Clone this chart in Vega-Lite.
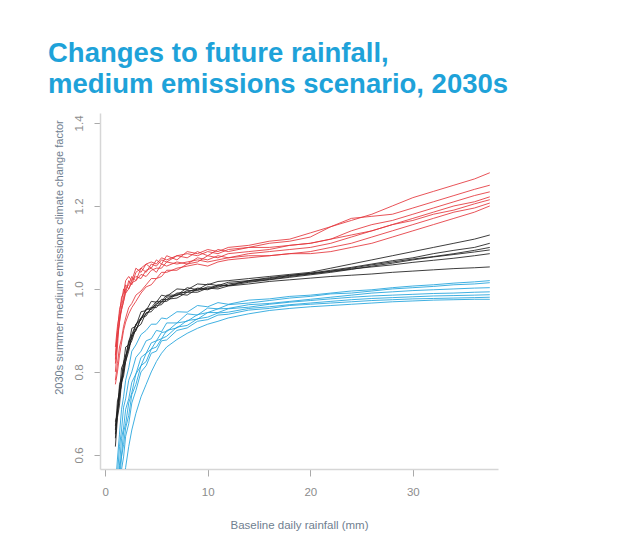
{
"$schema":"https://vega.github.io/schema/vega-lite/v6.json",
"width":398,"height":356,
"autosize":"none",
"padding":{"left":100,"top":113,"right":33,"bottom":73},
"background":"white",
"title":{"text":["Changes to future rainfall,","medium emissions scenario, 2030s"],"anchor":"start","frame":"group","dx":-52,"offset":-13,"baseline":"bottom","font":"Liberation Sans","fontSize":27.5,"fontWeight":"bold","color":"#1ea2d9","lineHeight":31},
"data":{"values":[
{"s":"r1","x":1,"y":0.84},{"s":"r1","x":1.2,"y":0.90},{"s":"r1","x":1.4,"y":0.95},{"s":"r1","x":1.6,"y":0.97},{"s":"r1","x":1.8,"y":1.00},{"s":"r1","x":2,"y":0.99},{"s":"r1","x":2.3,"y":1.02},{"s":"r1","x":2.6,"y":1.01},{"s":"r1","x":3,"y":1.04},{"s":"r1","x":3.5,"y":1.05},{"s":"r1","x":4,"y":1.06},{"s":"r1","x":4.5,"y":1.05},{"s":"r1","x":5,"y":1.07},{"s":"r1","x":5.5,"y":1.06},{"s":"r1","x":6,"y":1.08},{"s":"r1","x":7,"y":1.07},{"s":"r1","x":8,"y":1.09},{"s":"r1","x":9,"y":1.085},{"s":"r1","x":10,"y":1.095},{"s":"r1","x":11,"y":1.09},{"s":"r1","x":12,"y":1.10},{"s":"r1","x":14,"y":1.105},{"s":"r1","x":16,"y":1.115},{"s":"r1","x":18,"y":1.12},{"s":"r1","x":20,"y":1.135},{"s":"r1","x":22,"y":1.15},{"s":"r1","x":24,"y":1.165},{"s":"r1","x":26,"y":1.18},{"s":"r1","x":28,"y":1.20},{"s":"r1","x":30,"y":1.22},{"s":"r1","x":32,"y":1.235},{"s":"r1","x":34,"y":1.25},{"s":"r1","x":36,"y":1.265},{"s":"r1","x":37.5,"y":1.28},
{"s":"r2","x":1,"y":0.80},{"s":"r2","x":1.2,"y":0.86},{"s":"r2","x":1.4,"y":0.93},{"s":"r2","x":1.6,"y":0.95},{"s":"r2","x":1.8,"y":0.97},{"s":"r2","x":2,"y":1.00},{"s":"r2","x":2.3,"y":1.01},{"s":"r2","x":2.6,"y":1.03},{"s":"r2","x":3,"y":1.02},{"s":"r2","x":3.5,"y":1.05},{"s":"r2","x":4,"y":1.04},{"s":"r2","x":4.5,"y":1.06},{"s":"r2","x":5,"y":1.055},{"s":"r2","x":5.5,"y":1.07},{"s":"r2","x":6,"y":1.065},{"s":"r2","x":7,"y":1.08},{"s":"r2","x":8,"y":1.075},{"s":"r2","x":9,"y":1.09},{"s":"r2","x":10,"y":1.08},{"s":"r2","x":11,"y":1.095},{"s":"r2","x":12,"y":1.09},{"s":"r2","x":14,"y":1.10},{"s":"r2","x":16,"y":1.11},{"s":"r2","x":18,"y":1.115},{"s":"r2","x":20,"y":1.125},{"s":"r2","x":22,"y":1.15},{"s":"r2","x":24,"y":1.17},{"s":"r2","x":26,"y":1.175},{"s":"r2","x":28,"y":1.18},{"s":"r2","x":30,"y":1.195},{"s":"r2","x":32,"y":1.21},{"s":"r2","x":34,"y":1.225},{"s":"r2","x":36,"y":1.24},{"s":"r2","x":37.5,"y":1.25},
{"s":"r3","x":1,"y":0.77},{"s":"r3","x":1.2,"y":0.80},{"s":"r3","x":1.4,"y":0.84},{"s":"r3","x":1.6,"y":0.87},{"s":"r3","x":1.8,"y":0.90},{"s":"r3","x":2,"y":0.92},{"s":"r3","x":2.3,"y":0.94},{"s":"r3","x":2.6,"y":0.955},{"s":"r3","x":3,"y":0.97},{"s":"r3","x":3.5,"y":0.99},{"s":"r3","x":4,"y":1.005},{"s":"r3","x":4.5,"y":1.01},{"s":"r3","x":5,"y":1.025},{"s":"r3","x":5.5,"y":1.03},{"s":"r3","x":6,"y":1.045},{"s":"r3","x":7,"y":1.045},{"s":"r3","x":8,"y":1.06},{"s":"r3","x":9,"y":1.065},{"s":"r3","x":10,"y":1.08},{"s":"r3","x":11,"y":1.075},{"s":"r3","x":12,"y":1.085},{"s":"r3","x":14,"y":1.09},{"s":"r3","x":16,"y":1.095},{"s":"r3","x":18,"y":1.105},{"s":"r3","x":20,"y":1.11},{"s":"r3","x":22,"y":1.12},{"s":"r3","x":24,"y":1.14},{"s":"r3","x":26,"y":1.155},{"s":"r3","x":28,"y":1.165},{"s":"r3","x":30,"y":1.18},{"s":"r3","x":32,"y":1.195},{"s":"r3","x":34,"y":1.21},{"s":"r3","x":36,"y":1.225},{"s":"r3","x":37.5,"y":1.234},
{"s":"r4","x":1,"y":0.82},{"s":"r4","x":1.2,"y":0.88},{"s":"r4","x":1.4,"y":0.92},{"s":"r4","x":1.6,"y":0.96},{"s":"r4","x":1.8,"y":0.98},{"s":"r4","x":2,"y":1.01},{"s":"r4","x":2.3,"y":1.00},{"s":"r4","x":2.6,"y":1.02},{"s":"r4","x":3,"y":1.03},{"s":"r4","x":3.5,"y":1.025},{"s":"r4","x":4,"y":1.045},{"s":"r4","x":4.5,"y":1.05},{"s":"r4","x":5,"y":1.04},{"s":"r4","x":5.5,"y":1.06},{"s":"r4","x":6,"y":1.055},{"s":"r4","x":7,"y":1.065},{"s":"r4","x":8,"y":1.06},{"s":"r4","x":9,"y":1.075},{"s":"r4","x":10,"y":1.07},{"s":"r4","x":11,"y":1.08},{"s":"r4","x":12,"y":1.075},{"s":"r4","x":14,"y":1.085},{"s":"r4","x":16,"y":1.09},{"s":"r4","x":18,"y":1.095},{"s":"r4","x":20,"y":1.10},{"s":"r4","x":22,"y":1.11},{"s":"r4","x":24,"y":1.125},{"s":"r4","x":26,"y":1.14},{"s":"r4","x":28,"y":1.155},{"s":"r4","x":30,"y":1.17},{"s":"r4","x":32,"y":1.185},{"s":"r4","x":34,"y":1.20},{"s":"r4","x":36,"y":1.21},{"s":"r4","x":37.5,"y":1.222},
{"s":"r5","x":1,"y":0.86},{"s":"r5","x":1.2,"y":0.91},{"s":"r5","x":1.4,"y":0.94},{"s":"r5","x":1.6,"y":0.98},{"s":"r5","x":1.8,"y":0.99},{"s":"r5","x":2,"y":1.02},{"s":"r5","x":2.3,"y":1.03},{"s":"r5","x":2.6,"y":1.02},{"s":"r5","x":3,"y":1.05},{"s":"r5","x":3.5,"y":1.04},{"s":"r5","x":4,"y":1.06},{"s":"r5","x":4.5,"y":1.065},{"s":"r5","x":5,"y":1.06},{"s":"r5","x":5.5,"y":1.075},{"s":"r5","x":6,"y":1.07},{"s":"r5","x":7,"y":1.08},{"s":"r5","x":8,"y":1.085},{"s":"r5","x":9,"y":1.08},{"s":"r5","x":10,"y":1.09},{"s":"r5","x":11,"y":1.085},{"s":"r5","x":12,"y":1.095},{"s":"r5","x":14,"y":1.10},{"s":"r5","x":16,"y":1.10},{"s":"r5","x":18,"y":1.105},{"s":"r5","x":20,"y":1.11},{"s":"r5","x":22,"y":1.12},{"s":"r5","x":24,"y":1.13},{"s":"r5","x":26,"y":1.14},{"s":"r5","x":28,"y":1.155},{"s":"r5","x":30,"y":1.165},{"s":"r5","x":32,"y":1.18},{"s":"r5","x":34,"y":1.19},{"s":"r5","x":36,"y":1.205},{"s":"r5","x":37.5,"y":1.215},
{"s":"r6","x":1,"y":0.78},{"s":"r6","x":1.2,"y":0.82},{"s":"r6","x":1.4,"y":0.86},{"s":"r6","x":1.6,"y":0.88},{"s":"r6","x":1.8,"y":0.91},{"s":"r6","x":2,"y":0.93},{"s":"r6","x":2.3,"y":0.955},{"s":"r6","x":2.6,"y":0.965},{"s":"r6","x":3,"y":0.985},{"s":"r6","x":3.5,"y":0.995},{"s":"r6","x":4,"y":1.01},{"s":"r6","x":4.5,"y":1.025},{"s":"r6","x":5,"y":1.025},{"s":"r6","x":5.5,"y":1.04},{"s":"r6","x":6,"y":1.04},{"s":"r6","x":7,"y":1.05},{"s":"r6","x":8,"y":1.055},{"s":"r6","x":9,"y":1.06},{"s":"r6","x":10,"y":1.055},{"s":"r6","x":11,"y":1.065},{"s":"r6","x":12,"y":1.07},{"s":"r6","x":14,"y":1.075},{"s":"r6","x":16,"y":1.08},{"s":"r6","x":18,"y":1.085},{"s":"r6","x":20,"y":1.09},{"s":"r6","x":22,"y":1.10},{"s":"r6","x":24,"y":1.11},{"s":"r6","x":26,"y":1.125},{"s":"r6","x":28,"y":1.14},{"s":"r6","x":30,"y":1.155},{"s":"r6","x":32,"y":1.17},{"s":"r6","x":34,"y":1.185},{"s":"r6","x":36,"y":1.195},{"s":"r6","x":37.5,"y":1.207},
{"s":"r7","x":1,"y":0.83},{"s":"r7","x":1.2,"y":0.89},{"s":"r7","x":1.4,"y":0.92},{"s":"r7","x":1.6,"y":0.95},{"s":"r7","x":1.8,"y":0.97},{"s":"r7","x":2,"y":0.99},{"s":"r7","x":2.3,"y":1.00},{"s":"r7","x":2.6,"y":1.015},{"s":"r7","x":3,"y":1.02},{"s":"r7","x":3.5,"y":1.035},{"s":"r7","x":4,"y":1.03},{"s":"r7","x":4.5,"y":1.045},{"s":"r7","x":5,"y":1.05},{"s":"r7","x":5.5,"y":1.05},{"s":"r7","x":6,"y":1.065},{"s":"r7","x":7,"y":1.06},{"s":"r7","x":8,"y":1.065},{"s":"r7","x":9,"y":1.07},{"s":"r7","x":10,"y":1.065},{"s":"r7","x":11,"y":1.07},{"s":"r7","x":12,"y":1.075},{"s":"r7","x":14,"y":1.08},{"s":"r7","x":16,"y":1.08},{"s":"r7","x":18,"y":1.085},{"s":"r7","x":20,"y":1.085},{"s":"r7","x":22,"y":1.09},{"s":"r7","x":24,"y":1.10},{"s":"r7","x":26,"y":1.11},{"s":"r7","x":28,"y":1.125},{"s":"r7","x":30,"y":1.14},{"s":"r7","x":32,"y":1.155},{"s":"r7","x":34,"y":1.17},{"s":"r7","x":36,"y":1.185},{"s":"r7","x":37.5,"y":1.20},
{"s":"k1","x":1,"y":0.66},{"s":"k1","x":1.2,"y":0.73},{"s":"k1","x":1.4,"y":0.75},{"s":"k1","x":1.6,"y":0.81},{"s":"k1","x":1.8,"y":0.82},{"s":"k1","x":2,"y":0.86},{"s":"k1","x":2.3,"y":0.865},{"s":"k1","x":2.6,"y":0.905},{"s":"k1","x":3,"y":0.91},{"s":"k1","x":3.5,"y":0.945},{"s":"k1","x":4,"y":0.948},{"s":"k1","x":4.5,"y":0.97},{"s":"k1","x":5,"y":0.968},{"s":"k1","x":5.5,"y":0.985},{"s":"k1","x":6,"y":0.982},{"s":"k1","x":7,"y":1.0},{"s":"k1","x":8,"y":0.998},{"s":"k1","x":9,"y":1.012},{"s":"k1","x":10,"y":1.01},{"s":"k1","x":11,"y":1.018},{"s":"k1","x":12,"y":1.02},{"s":"k1","x":14,"y":1.025},{"s":"k1","x":16,"y":1.03},{"s":"k1","x":18,"y":1.035},{"s":"k1","x":20,"y":1.04},{"s":"k1","x":22,"y":1.05},{"s":"k1","x":24,"y":1.06},{"s":"k1","x":26,"y":1.07},{"s":"k1","x":28,"y":1.08},{"s":"k1","x":30,"y":1.09},{"s":"k1","x":32,"y":1.10},{"s":"k1","x":34,"y":1.11},{"s":"k1","x":36,"y":1.12},{"s":"k1","x":37.5,"y":1.13},
{"s":"k2","x":1,"y":0.62},{"s":"k2","x":1.2,"y":0.69},{"s":"k2","x":1.4,"y":0.72},{"s":"k2","x":1.6,"y":0.775},{"s":"k2","x":1.8,"y":0.79},{"s":"k2","x":2,"y":0.825},{"s":"k2","x":2.3,"y":0.85},{"s":"k2","x":2.6,"y":0.885},{"s":"k2","x":3,"y":0.90},{"s":"k2","x":3.5,"y":0.93},{"s":"k2","x":4,"y":0.935},{"s":"k2","x":4.5,"y":0.955},{"s":"k2","x":5,"y":0.955},{"s":"k2","x":5.5,"y":0.97},{"s":"k2","x":6,"y":0.97},{"s":"k2","x":7,"y":0.988},{"s":"k2","x":8,"y":0.985},{"s":"k2","x":9,"y":1.0},{"s":"k2","x":10,"y":0.998},{"s":"k2","x":11,"y":1.007},{"s":"k2","x":12,"y":1.008},{"s":"k2","x":14,"y":1.02},{"s":"k2","x":16,"y":1.025},{"s":"k2","x":18,"y":1.032},{"s":"k2","x":20,"y":1.038},{"s":"k2","x":22,"y":1.045},{"s":"k2","x":24,"y":1.052},{"s":"k2","x":26,"y":1.06},{"s":"k2","x":28,"y":1.068},{"s":"k2","x":30,"y":1.075},{"s":"k2","x":32,"y":1.085},{"s":"k2","x":34,"y":1.093},{"s":"k2","x":36,"y":1.10},{"s":"k2","x":37.5,"y":1.11},
{"s":"k3","x":1,"y":0.68},{"s":"k3","x":1.2,"y":0.70},{"s":"k3","x":1.4,"y":0.77},{"s":"k3","x":1.6,"y":0.785},{"s":"k3","x":1.8,"y":0.825},{"s":"k3","x":2,"y":0.835},{"s":"k3","x":2.3,"y":0.875},{"s":"k3","x":2.6,"y":0.89},{"s":"k3","x":3,"y":0.915},{"s":"k3","x":3.5,"y":0.93},{"s":"k3","x":4,"y":0.95},{"s":"k3","x":4.5,"y":0.955},{"s":"k3","x":5,"y":0.97},{"s":"k3","x":5.5,"y":0.97},{"s":"k3","x":6,"y":0.985},{"s":"k3","x":7,"y":0.985},{"s":"k3","x":8,"y":1.003},{"s":"k3","x":9,"y":0.998},{"s":"k3","x":10,"y":1.012},{"s":"k3","x":11,"y":1.008},{"s":"k3","x":12,"y":1.016},{"s":"k3","x":14,"y":1.02},{"s":"k3","x":16,"y":1.027},{"s":"k3","x":18,"y":1.033},{"s":"k3","x":20,"y":1.037},{"s":"k3","x":22,"y":1.043},{"s":"k3","x":24,"y":1.05},{"s":"k3","x":26,"y":1.058},{"s":"k3","x":28,"y":1.065},{"s":"k3","x":30,"y":1.072},{"s":"k3","x":32,"y":1.078},{"s":"k3","x":34,"y":1.085},{"s":"k3","x":36,"y":1.093},{"s":"k3","x":37.5,"y":1.10},
{"s":"k4","x":1,"y":0.64},{"s":"k4","x":1.2,"y":0.71},{"s":"k4","x":1.4,"y":0.735},{"s":"k4","x":1.6,"y":0.78},{"s":"k4","x":1.8,"y":0.80},{"s":"k4","x":2,"y":0.84},{"s":"k4","x":2.3,"y":0.855},{"s":"k4","x":2.6,"y":0.89},{"s":"k4","x":3,"y":0.90},{"s":"k4","x":3.5,"y":0.93},{"s":"k4","x":4,"y":0.94},{"s":"k4","x":4.5,"y":0.953},{"s":"k4","x":5,"y":0.962},{"s":"k4","x":5.5,"y":0.975},{"s":"k4","x":6,"y":0.974},{"s":"k4","x":7,"y":0.99},{"s":"k4","x":8,"y":0.992},{"s":"k4","x":9,"y":1.002},{"s":"k4","x":10,"y":1.0},{"s":"k4","x":11,"y":1.01},{"s":"k4","x":12,"y":1.008},{"s":"k4","x":14,"y":1.016},{"s":"k4","x":16,"y":1.022},{"s":"k4","x":18,"y":1.028},{"s":"k4","x":20,"y":1.034},{"s":"k4","x":22,"y":1.04},{"s":"k4","x":24,"y":1.047},{"s":"k4","x":26,"y":1.055},{"s":"k4","x":28,"y":1.062},{"s":"k4","x":30,"y":1.07},{"s":"k4","x":32,"y":1.077},{"s":"k4","x":34,"y":1.083},{"s":"k4","x":36,"y":1.089},{"s":"k4","x":37.5,"y":1.094},
{"s":"k5","x":1,"y":0.67},{"s":"k5","x":1.2,"y":0.705},{"s":"k5","x":1.4,"y":0.76},{"s":"k5","x":1.6,"y":0.78},{"s":"k5","x":1.8,"y":0.815},{"s":"k5","x":2,"y":0.835},{"s":"k5","x":2.3,"y":0.87},{"s":"k5","x":2.6,"y":0.88},{"s":"k5","x":3,"y":0.915},{"s":"k5","x":3.5,"y":0.925},{"s":"k5","x":4,"y":0.952},{"s":"k5","x":4.5,"y":0.95},{"s":"k5","x":5,"y":0.966},{"s":"k5","x":5.5,"y":0.966},{"s":"k5","x":6,"y":0.98},{"s":"k5","x":7,"y":0.984},{"s":"k5","x":8,"y":0.996},{"s":"k5","x":9,"y":0.996},{"s":"k5","x":10,"y":1.005},{"s":"k5","x":11,"y":1.004},{"s":"k5","x":12,"y":1.012},{"s":"k5","x":14,"y":1.018},{"s":"k5","x":16,"y":1.023},{"s":"k5","x":18,"y":1.03},{"s":"k5","x":20,"y":1.036},{"s":"k5","x":22,"y":1.042},{"s":"k5","x":24,"y":1.048},{"s":"k5","x":26,"y":1.053},{"s":"k5","x":28,"y":1.058},{"s":"k5","x":30,"y":1.064},{"s":"k5","x":32,"y":1.069},{"s":"k5","x":34,"y":1.074},{"s":"k5","x":36,"y":1.08},{"s":"k5","x":37.5,"y":1.085},
{"s":"k6","x":1,"y":0.65},{"s":"k6","x":1.2,"y":0.695},{"s":"k6","x":1.4,"y":0.745},{"s":"k6","x":1.6,"y":0.77},{"s":"k6","x":1.8,"y":0.805},{"s":"k6","x":2,"y":0.825},{"s":"k6","x":2.3,"y":0.86},{"s":"k6","x":2.6,"y":0.875},{"s":"k6","x":3,"y":0.905},{"s":"k6","x":3.5,"y":0.915},{"s":"k6","x":4,"y":0.943},{"s":"k6","x":4.5,"y":0.945},{"s":"k6","x":5,"y":0.96},{"s":"k6","x":5.5,"y":0.962},{"s":"k6","x":6,"y":0.975},{"s":"k6","x":7,"y":0.978},{"s":"k6","x":8,"y":0.992},{"s":"k6","x":9,"y":0.992},{"s":"k6","x":10,"y":1.002},{"s":"k6","x":11,"y":1.0},{"s":"k6","x":12,"y":1.007},{"s":"k6","x":14,"y":1.012},{"s":"k6","x":16,"y":1.018},{"s":"k6","x":18,"y":1.022},{"s":"k6","x":20,"y":1.026},{"s":"k6","x":22,"y":1.03},{"s":"k6","x":24,"y":1.033},{"s":"k6","x":26,"y":1.036},{"s":"k6","x":28,"y":1.04},{"s":"k6","x":30,"y":1.043},{"s":"k6","x":32,"y":1.046},{"s":"k6","x":34,"y":1.049},{"s":"k6","x":36,"y":1.051},{"s":"k6","x":37.5,"y":1.053},
{"s":"b1","x":1,"y":0.52},{"s":"b1","x":1.2,"y":0.59},{"s":"b1","x":1.4,"y":0.65},{"s":"b1","x":1.6,"y":0.71},{"s":"b1","x":1.8,"y":0.74},{"s":"b1","x":2,"y":0.78},{"s":"b1","x":2.3,"y":0.81},{"s":"b1","x":2.6,"y":0.85},{"s":"b1","x":3,"y":0.865},{"s":"b1","x":3.5,"y":0.89},{"s":"b1","x":4,"y":0.90},{"s":"b1","x":4.5,"y":0.915},{"s":"b1","x":5,"y":0.915},{"s":"b1","x":5.5,"y":0.93},{"s":"b1","x":6,"y":0.928},{"s":"b1","x":7,"y":0.945},{"s":"b1","x":8,"y":0.944},{"s":"b1","x":9,"y":0.96},{"s":"b1","x":10,"y":0.957},{"s":"b1","x":11,"y":0.967},{"s":"b1","x":12,"y":0.963},{"s":"b1","x":14,"y":0.973},{"s":"b1","x":16,"y":0.976},{"s":"b1","x":18,"y":0.982},{"s":"b1","x":20,"y":0.985},{"s":"b1","x":22,"y":0.99},{"s":"b1","x":24,"y":0.995},{"s":"b1","x":26,"y":0.998},{"s":"b1","x":28,"y":1.003},{"s":"b1","x":30,"y":1.007},{"s":"b1","x":32,"y":1.01},{"s":"b1","x":34,"y":1.014},{"s":"b1","x":36,"y":1.017},{"s":"b1","x":37.5,"y":1.02},
{"s":"b2","x":1,"y":0.48},{"s":"b2","x":1.2,"y":0.55},{"s":"b2","x":1.4,"y":0.62},{"s":"b2","x":1.6,"y":0.66},{"s":"b2","x":1.8,"y":0.715},{"s":"b2","x":2,"y":0.735},{"s":"b2","x":2.3,"y":0.78},{"s":"b2","x":2.6,"y":0.80},{"s":"b2","x":3,"y":0.835},{"s":"b2","x":3.5,"y":0.85},{"s":"b2","x":4,"y":0.875},{"s":"b2","x":4.5,"y":0.88},{"s":"b2","x":5,"y":0.90},{"s":"b2","x":5.5,"y":0.897},{"s":"b2","x":6,"y":0.918},{"s":"b2","x":7,"y":0.918},{"s":"b2","x":8,"y":0.94},{"s":"b2","x":9,"y":0.937},{"s":"b2","x":10,"y":0.954},{"s":"b2","x":11,"y":0.952},{"s":"b2","x":12,"y":0.962},{"s":"b2","x":14,"y":0.966},{"s":"b2","x":16,"y":0.972},{"s":"b2","x":18,"y":0.978},{"s":"b2","x":20,"y":0.982},{"s":"b2","x":22,"y":0.988},{"s":"b2","x":24,"y":0.99},{"s":"b2","x":26,"y":0.995},{"s":"b2","x":28,"y":1.0},{"s":"b2","x":30,"y":1.003},{"s":"b2","x":32,"y":1.006},{"s":"b2","x":34,"y":1.01},{"s":"b2","x":36,"y":1.012},{"s":"b2","x":37.5,"y":1.015},
{"s":"b3","x":1,"y":0.46},{"s":"b3","x":1.2,"y":0.53},{"s":"b3","x":1.4,"y":0.575},{"s":"b3","x":1.6,"y":0.64},{"s":"b3","x":1.8,"y":0.665},{"s":"b3","x":2,"y":0.71},{"s":"b3","x":2.3,"y":0.735},{"s":"b3","x":2.6,"y":0.775},{"s":"b3","x":3,"y":0.795},{"s":"b3","x":3.5,"y":0.835},{"s":"b3","x":4,"y":0.845},{"s":"b3","x":4.5,"y":0.87},{"s":"b3","x":5,"y":0.875},{"s":"b3","x":5.5,"y":0.895},{"s":"b3","x":6,"y":0.897},{"s":"b3","x":7,"y":0.918},{"s":"b3","x":8,"y":0.922},{"s":"b3","x":9,"y":0.938},{"s":"b3","x":10,"y":0.943},{"s":"b3","x":11,"y":0.952},{"s":"b3","x":12,"y":0.953},{"s":"b3","x":14,"y":0.962},{"s":"b3","x":16,"y":0.965},{"s":"b3","x":18,"y":0.97},{"s":"b3","x":20,"y":0.975},{"s":"b3","x":22,"y":0.98},{"s":"b3","x":24,"y":0.985},{"s":"b3","x":26,"y":0.99},{"s":"b3","x":28,"y":0.993},{"s":"b3","x":30,"y":0.996},{"s":"b3","x":32,"y":0.998},{"s":"b3","x":34,"y":1.0},{"s":"b3","x":36,"y":1.002},{"s":"b3","x":37.5,"y":1.003},
{"s":"b4","x":1,"y":0.44},{"s":"b4","x":1.2,"y":0.49},{"s":"b4","x":1.4,"y":0.565},{"s":"b4","x":1.6,"y":0.60},{"s":"b4","x":1.8,"y":0.655},{"s":"b4","x":2,"y":0.675},{"s":"b4","x":2.3,"y":0.725},{"s":"b4","x":2.6,"y":0.75},{"s":"b4","x":3,"y":0.795},{"s":"b4","x":3.5,"y":0.815},{"s":"b4","x":4,"y":0.845},{"s":"b4","x":4.5,"y":0.855},{"s":"b4","x":5,"y":0.875},{"s":"b4","x":5.5,"y":0.88},{"s":"b4","x":6,"y":0.9},{"s":"b4","x":7,"y":0.906},{"s":"b4","x":8,"y":0.924},{"s":"b4","x":9,"y":0.927},{"s":"b4","x":10,"y":0.943},{"s":"b4","x":11,"y":0.943},{"s":"b4","x":12,"y":0.952},{"s":"b4","x":14,"y":0.956},{"s":"b4","x":16,"y":0.963},{"s":"b4","x":18,"y":0.968},{"s":"b4","x":20,"y":0.972},{"s":"b4","x":22,"y":0.976},{"s":"b4","x":24,"y":0.98},{"s":"b4","x":26,"y":0.983},{"s":"b4","x":28,"y":0.985},{"s":"b4","x":30,"y":0.987},{"s":"b4","x":32,"y":0.989},{"s":"b4","x":34,"y":0.99},{"s":"b4","x":36,"y":0.992},{"s":"b4","x":37.5,"y":0.993},
{"s":"b5","x":1,"y":0.42},{"s":"b5","x":1.2,"y":0.485},{"s":"b5","x":1.4,"y":0.535},{"s":"b5","x":1.6,"y":0.595},{"s":"b5","x":1.8,"y":0.625},{"s":"b5","x":2,"y":0.665},{"s":"b5","x":2.3,"y":0.695},{"s":"b5","x":2.6,"y":0.745},{"s":"b5","x":3,"y":0.77},{"s":"b5","x":3.5,"y":0.815},{"s":"b5","x":4,"y":0.825},{"s":"b5","x":4.5,"y":0.855},{"s":"b5","x":5,"y":0.86},{"s":"b5","x":5.5,"y":0.88},{"s":"b5","x":6,"y":0.886},{"s":"b5","x":7,"y":0.908},{"s":"b5","x":8,"y":0.912},{"s":"b5","x":9,"y":0.928},{"s":"b5","x":10,"y":0.932},{"s":"b5","x":11,"y":0.942},{"s":"b5","x":12,"y":0.944},{"s":"b5","x":14,"y":0.953},{"s":"b5","x":16,"y":0.957},{"s":"b5","x":18,"y":0.962},{"s":"b5","x":20,"y":0.966},{"s":"b5","x":22,"y":0.97},{"s":"b5","x":24,"y":0.974},{"s":"b5","x":26,"y":0.977},{"s":"b5","x":28,"y":0.979},{"s":"b5","x":30,"y":0.981},{"s":"b5","x":32,"y":0.983},{"s":"b5","x":34,"y":0.984},{"s":"b5","x":36,"y":0.985},{"s":"b5","x":37.5,"y":0.986},
{"s":"b6","x":1,"y":0.40},{"s":"b6","x":1.2,"y":0.455},{"s":"b6","x":1.4,"y":0.505},{"s":"b6","x":1.6,"y":0.565},{"s":"b6","x":1.8,"y":0.595},{"s":"b6","x":2,"y":0.645},{"s":"b6","x":2.3,"y":0.675},{"s":"b6","x":2.6,"y":0.725},{"s":"b6","x":3,"y":0.755},{"s":"b6","x":3.5,"y":0.8},{"s":"b6","x":4,"y":0.815},{"s":"b6","x":4.5,"y":0.845},{"s":"b6","x":5,"y":0.85},{"s":"b6","x":5.5,"y":0.875},{"s":"b6","x":6,"y":0.877},{"s":"b6","x":7,"y":0.9},{"s":"b6","x":8,"y":0.906},{"s":"b6","x":9,"y":0.922},{"s":"b6","x":10,"y":0.926},{"s":"b6","x":11,"y":0.937},{"s":"b6","x":12,"y":0.939},{"s":"b6","x":14,"y":0.949},{"s":"b6","x":16,"y":0.953},{"s":"b6","x":18,"y":0.96},{"s":"b6","x":20,"y":0.963},{"s":"b6","x":22,"y":0.966},{"s":"b6","x":24,"y":0.969},{"s":"b6","x":26,"y":0.972},{"s":"b6","x":28,"y":0.974},{"s":"b6","x":30,"y":0.976},{"s":"b6","x":32,"y":0.977},{"s":"b6","x":34,"y":0.978},{"s":"b6","x":36,"y":0.979},{"s":"b6","x":37.5,"y":0.98},
{"s":"b7","x":1,"y":0.36},{"s":"b7","x":1.2,"y":0.41},{"s":"b7","x":1.4,"y":0.46},{"s":"b7","x":1.6,"y":0.50},{"s":"b7","x":1.8,"y":0.54},{"s":"b7","x":2,"y":0.57},{"s":"b7","x":2.3,"y":0.62},{"s":"b7","x":2.6,"y":0.66},{"s":"b7","x":3,"y":0.70},{"s":"b7","x":3.5,"y":0.74},{"s":"b7","x":4,"y":0.77},{"s":"b7","x":4.5,"y":0.80},{"s":"b7","x":5,"y":0.825},{"s":"b7","x":5.5,"y":0.845},{"s":"b7","x":6,"y":0.86},{"s":"b7","x":7,"y":0.878},{"s":"b7","x":8,"y":0.893},{"s":"b7","x":9,"y":0.905},{"s":"b7","x":10,"y":0.915},{"s":"b7","x":11,"y":0.922},{"s":"b7","x":12,"y":0.93},{"s":"b7","x":14,"y":0.94},{"s":"b7","x":16,"y":0.948},{"s":"b7","x":18,"y":0.953},{"s":"b7","x":20,"y":0.957},{"s":"b7","x":22,"y":0.96},{"s":"b7","x":24,"y":0.963},{"s":"b7","x":26,"y":0.966},{"s":"b7","x":28,"y":0.969},{"s":"b7","x":30,"y":0.971},{"s":"b7","x":32,"y":0.973},{"s":"b7","x":34,"y":0.974},{"s":"b7","x":36,"y":0.975},{"s":"b7","x":37.5,"y":0.975}
]},
"mark":{"type":"line","strokeWidth":1,"opacity":0.85,"clip":true},
"encoding":{
"x":{"field":"x","type":"quantitative","scale":{"domain":[-0.5,38.3],"nice":false,"zero":false},
 "axis":{"values":[0,10,20,30],"title":"Baseline daily rainfall (mm)","grid":false,"domainColor":"#d6d6d6","domainWidth":1.5,"tickColor":"#aaaaaa","tickSize":7,"labelPadding":10,"labelColor":"#8c8c8c","labelFontSize":11.5,"labelFont":"Liberation Sans","titleFont":"Liberation Sans","titleFontSize":11.5,"titleFontWeight":"normal","titleColor":"#6f8090","titlePadding":22}},
"y":{"field":"y","type":"quantitative","scale":{"domain":[0.566,1.424],"nice":false,"zero":false},
 "axis":{"values":[0.6,0.8,1.0,1.2,1.4],"format":".1f","labelAngle":-90,"labelAlign":"center","labelBaseline":"bottom","grid":false,"domainColor":"#d6d6d6","domainWidth":1.5,"tickColor":"#aaaaaa","tickSize":6,"labelPadding":10,"labelColor":"#8c8c8c","labelFontSize":11.5,"labelFont":"Liberation Sans","title":"2030s summer medium emissions climate change factor","titleFont":"Liberation Sans","titleFontSize":11,"titleFontWeight":"normal","titleColor":"#6f8090","titleX":-41,"titleY":144,"titleAngle":-90,"titleAlign":"center","titleBaseline":"middle"}},
"color":{"field":"s","type":"nominal","legend":null,"scale":{"domain":["r1","r2","r3","r4","r5","r6","r7","k1","k2","k3","k4","k5","k6","b1","b2","b3","b4","b5","b6","b7"],"range":["#e4353b","#e4353b","#e4353b","#e4353b","#e4353b","#e4353b","#e4353b","#1c1c1c","#1c1c1c","#1c1c1c","#1c1c1c","#1c1c1c","#1c1c1c","#1fa2dc","#1fa2dc","#1fa2dc","#1fa2dc","#1fa2dc","#1fa2dc","#1fa2dc"]}}
},
"config":{"view":{"stroke":null}}
}
